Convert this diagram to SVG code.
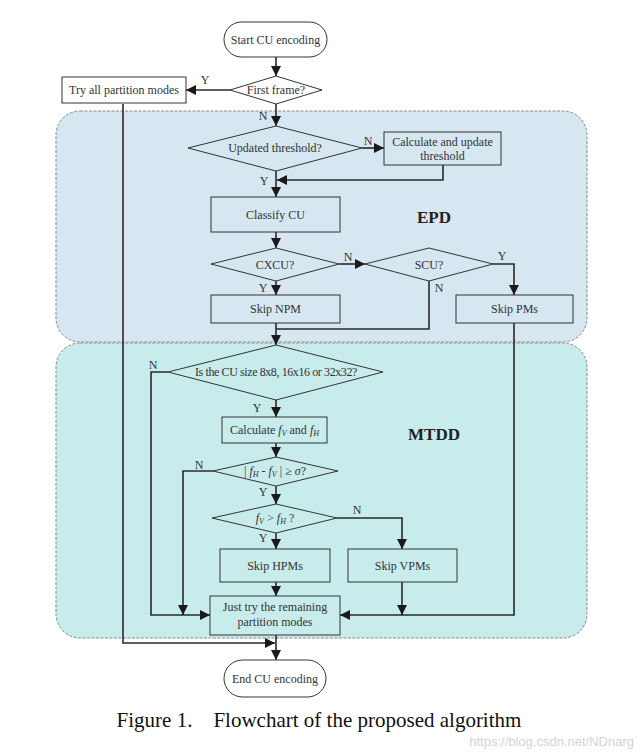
<svg xmlns="http://www.w3.org/2000/svg" width="642" height="753" viewBox="0 0 642 753">
<style>
.t{font-family:"Liberation Serif","Times New Roman",serif;font-size:12px;fill:#333;text-anchor:middle;dominant-baseline:central}
.lbl{font-family:"Liberation Serif","Times New Roman",serif;font-size:12px;fill:#333;text-anchor:middle;dominant-baseline:central}
.n{fill:none;stroke:#333;stroke-width:1}
.w{fill:#fff;stroke:#333;stroke-width:1}
.c{fill:none;stroke:#2a2a2a;stroke-width:1.6}
.reg{stroke:#8a8a8a;stroke-width:1;stroke-dasharray:3 1.5}
.big{font-family:"Liberation Serif","Times New Roman",serif;font-size:17px;font-weight:bold;fill:#222;text-anchor:middle;dominant-baseline:central}
.i{font-style:italic}
</style>
<defs>
<marker id="ah" markerUnits="userSpaceOnUse" markerWidth="10" markerHeight="10" refX="10" refY="5" orient="auto">
<path d="M0,0 L10,5 L0,10 z" fill="#1a1a1a"/>
</marker>
</defs>
<rect width="642" height="753" fill="#fff"/>
<g id="region-epd">
<rect x="56" y="111" width="531" height="231" rx="24" fill="#d6e7f1" class="reg"/>
<text class="big" x="434" y="217">EPD</text>
</g>
<g id="region-mtdd">
<rect x="56" y="343" width="531" height="295" rx="24" fill="#c8ecec" class="reg"/>
<text class="big" x="434" y="434">MTDD</text>
</g>
<g id="connectors">
<path class="c" d="M276,57 L276,76" marker-end="url(#ah)"/>
<path class="c" d="M230,90 L186,90" marker-end="url(#ah)"/>
<path class="c" d="M276,104 L276,126" marker-end="url(#ah)"/>
<path class="c" d="M123,104 L123,643 L275,643" marker-end="url(#ah)"/>
<path class="c" d="M362,148 L384,148" marker-end="url(#ah)"/>
<path class="c" d="M443,165 L443,180 L277,180" marker-end="url(#ah)"/>
<path class="c" d="M276,171 L276,197" marker-end="url(#ah)"/>
<path class="c" d="M276,232 L276,248" marker-end="url(#ah)"/>
<path class="c" d="M339,264 L365,264" marker-end="url(#ah)"/>
<path class="c" d="M276,281 L276,295" marker-end="url(#ah)"/>
<path class="c" d="M493,264 L514,264 L514,295" marker-end="url(#ah)"/>
<path class="c" d="M429,281 L429,329 L276,329"/>
<path class="c" d="M276,323 L276,345" marker-end="url(#ah)"/>
<path class="c" d="M514,323 L514,615 L340,615" marker-end="url(#ah)"/>
<path class="c" d="M168,372 L151,372 L151,615 L210,615" marker-end="url(#ah)"/>
<path class="c" d="M276,400 L276,417" marker-end="url(#ah)"/>
<path class="c" d="M276,443 L276,457" marker-end="url(#ah)"/>
<path class="c" d="M213,471 L183,471 L183,615" marker-end="url(#ah)"/>
<path class="c" d="M276,486 L276,504" marker-end="url(#ah)"/>
<path class="c" d="M337,518 L402,518 L402,549" marker-end="url(#ah)"/>
<path class="c" d="M276,533 L276,549" marker-end="url(#ah)"/>
<path class="c" d="M276,582 L276,596" marker-end="url(#ah)"/>
<path class="c" d="M402,582 L402,615" marker-end="url(#ah)"/>
<path class="c" d="M276,635 L276,660" marker-end="url(#ah)"/>
<text class="lbl" x="205" y="80">Y</text>
<text class="lbl" x="263" y="116">N</text>
<text class="lbl" x="368" y="141">N</text>
<text class="lbl" x="264" y="181">Y</text>
<text class="lbl" x="348" y="257">N</text>
<text class="lbl" x="263" y="288">Y</text>
<text class="lbl" x="502" y="256">Y</text>
<text class="lbl" x="439" y="288">N</text>
<text class="lbl" x="153" y="365">N</text>
<text class="lbl" x="257" y="408">Y</text>
<text class="lbl" x="199" y="465">N</text>
<text class="lbl" x="263" y="492">Y</text>
<text class="lbl" x="357" y="510">N</text>
<text class="lbl" x="263" y="538">Y</text>
</g>
<g id="start">
<rect class="w" x="224" y="22" width="103" height="35" rx="17.5"/>
<text class="t" x="275.5" y="39.5">Start CU encoding</text>
</g>
<g id="first-frame">
<polygon class="w" points="230,90 276,76 322,90 276,104"/>
<text class="t" x="276" y="90">First frame?</text>
</g>
<g id="try-all">
<rect class="w" x="62" y="77" width="124" height="26"/>
<text class="t" x="124" y="90">Try all partition modes</text>
</g>
<g id="updated-threshold">
<polygon class="n" points="188,148 276,126 362,148 276,171"/>
<text class="t" x="275" y="148">Updated threshold?</text>
</g>
<g id="calc-threshold">
<rect class="n" x="384" y="132" width="117" height="33"/>
<text class="t" x="442.5" y="141.5">Calculate and update</text>
<text class="t" x="442.5" y="155.5">threshold</text>
</g>
<g id="classify">
<rect class="n" x="211" y="197" width="129" height="35"/>
<text class="t" x="275.5" y="214.5">Classify CU</text>
</g>
<g id="cxcu">
<polygon class="n" points="211,264 276,248 339,264 276,281"/>
<text class="t" x="275" y="264.5">CXCU?</text>
</g>
<g id="scu">
<polygon class="n" points="365,264 429,248 493,264 429,281"/>
<text class="t" x="429" y="264.5">SCU?</text>
</g>
<g id="skip-npm">
<rect class="n" x="211" y="295" width="129" height="28"/>
<text class="t" x="275.5" y="309">Skip NPM</text>
</g>
<g id="skip-pms">
<rect class="n" x="456" y="295" width="117" height="28"/>
<text class="t" x="514.5" y="309">Skip PMs</text>
</g>
<g id="cu-size">
<polygon class="n" points="168,372 276,345 383,372 276,400"/>
<text class="t" x="276" y="372" style="letter-spacing:-0.4px">Is the CU size 8x8, 16x16 or 32x32?</text>
</g>
<g id="calc-f">
<rect class="n" x="222" y="417" width="105" height="26"/>
<text class="t" x="274.5" y="430">Calculate <tspan class="i">f</tspan><tspan class="i" font-size="8" dy="3">V</tspan><tspan dy="-3"> and </tspan><tspan class="i">f</tspan><tspan class="i" font-size="8" dy="3">H</tspan></text>
</g>
<g id="abs-diff">
<polygon class="n" points="213,471 276,457 338,471 276,486"/>
<text class="t" x="275" y="471">| <tspan class="i">f</tspan><tspan class="i" font-size="8" dy="3">H</tspan><tspan dy="-3"> - </tspan><tspan class="i">f</tspan><tspan class="i" font-size="8" dy="3">V</tspan><tspan dy="-3"> | ≥  </tspan><tspan class="i">σ</tspan>?</text>
</g>
<g id="fv-gt-fh">
<polygon class="n" points="212,518 276,504 337,518 276,533"/>
<text class="t" x="275" y="518"><tspan class="i">f</tspan><tspan class="i" font-size="8" dy="3">V</tspan><tspan dy="-3"> &gt; </tspan><tspan class="i">f</tspan><tspan class="i" font-size="8" dy="3">H</tspan><tspan dy="-3"> ?</tspan></text>
</g>
<g id="skip-hpms">
<rect class="n" x="220" y="549" width="110" height="33"/>
<text class="t" x="275" y="565.5">Skip HPMs</text>
</g>
<g id="skip-vpms">
<rect class="n" x="348" y="549" width="109" height="33"/>
<text class="t" x="402.5" y="565.5">Skip VPMs</text>
</g>
<g id="just-try">
<rect class="n" x="210" y="596" width="130" height="39"/>
<text class="t" x="275" y="607">Just try the remaining</text>
<text class="t" x="275" y="622">partition modes</text>
</g>
<g id="end">
<rect class="w" x="224" y="660" width="102" height="37" rx="18.5"/>
<text class="t" x="275" y="678.5">End CU encoding</text>
</g>
<g id="caption">
<text x="319" y="720" style="font-family:'Liberation Serif','Times New Roman',serif;font-size:21px;fill:#111;text-anchor:middle;dominant-baseline:central;white-space:pre" xml:space="preserve">Figure 1.    Flowchart of the proposed algorithm</text>
<text x="634" y="741" style="font-family:'Liberation Sans',Arial,sans-serif;font-size:13px;fill:#d4d4d4;text-anchor:end;dominant-baseline:central">https://blog.csdn.net/NDnarg</text>
</g>
</svg>
